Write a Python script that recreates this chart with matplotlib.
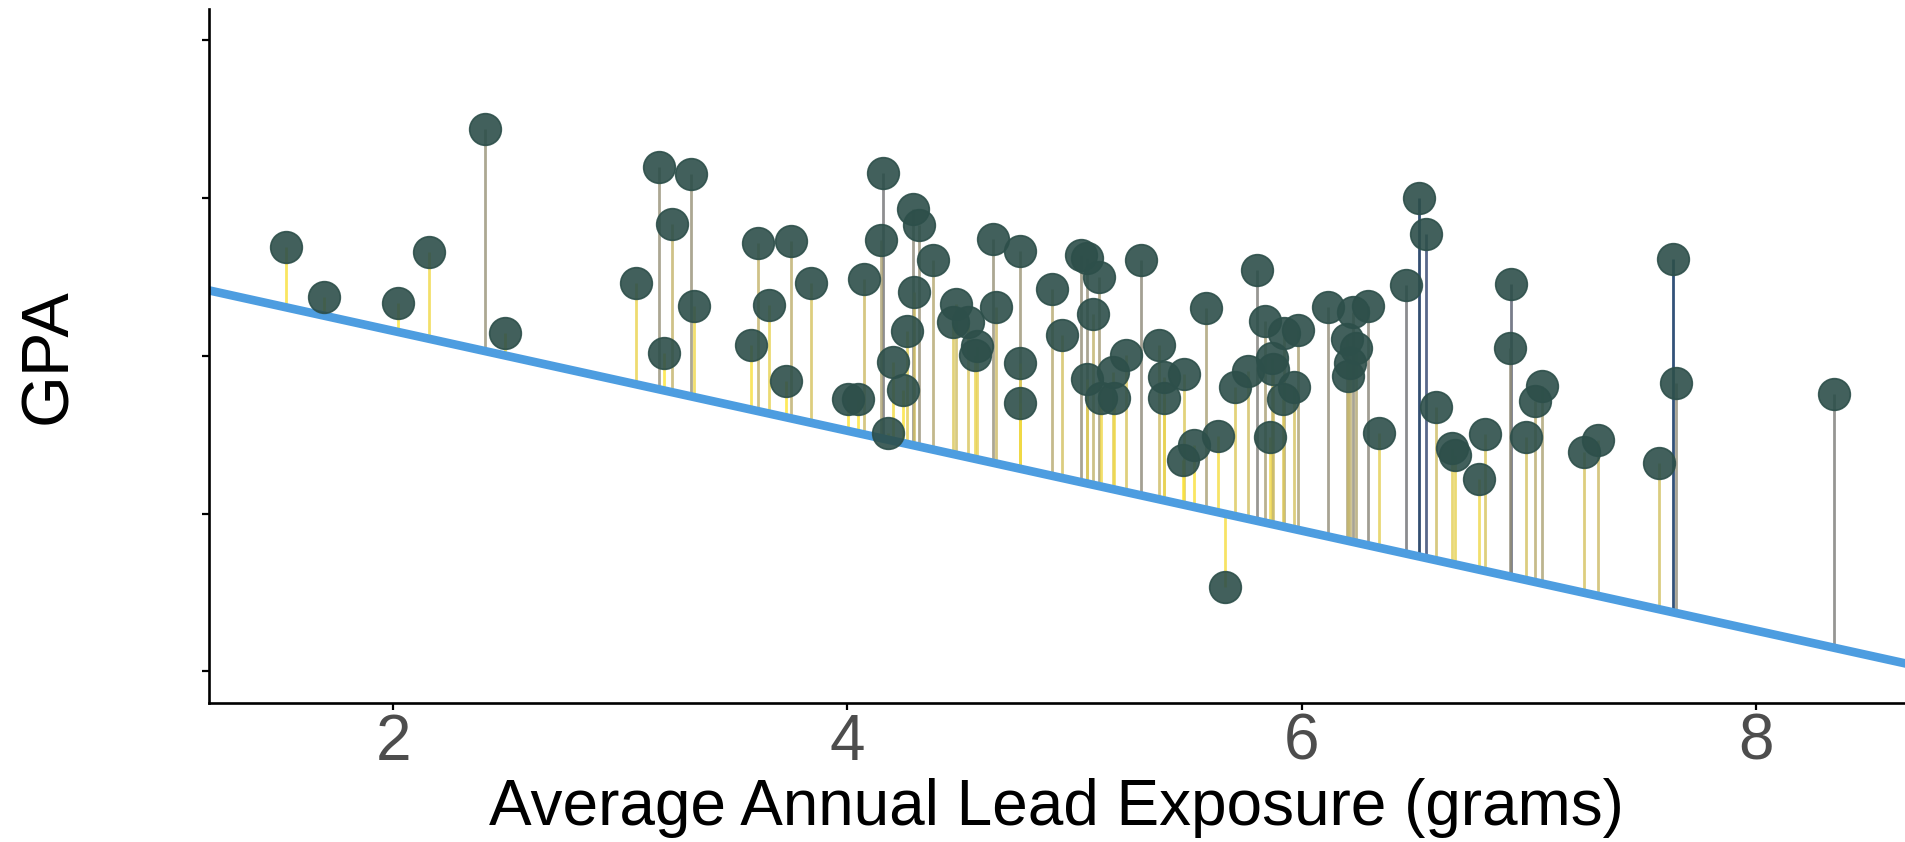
import numpy as np
import matplotlib
matplotlib.use("Agg")
import matplotlib.pyplot as plt
from matplotlib.colors import Normalize

# values
lead = [1.528, 1.694, 2.020, 2.157, 2.405, 2.493, 3.069, 3.171, 3.191, 3.227,
        3.313, 3.324, 3.575, 3.606, 3.653, 3.728, 3.750, 3.841, 4.003, 4.045,
        4.075, 4.156, 4.148, 4.180, 4.200, 4.244, 4.264, 4.291, 4.314, 4.379,
        4.292, 4.478, 4.467, 4.529, 4.571, 4.560, 4.642, 4.654, 4.761, 4.758,
        4.761, 4.902, 4.946, 5.027, 5.053, 5.106, 5.082, 5.053, 5.170, 5.228,
        5.115, 5.174, 5.295, 5.372, 5.395, 5.395, 5.484, 5.478, 5.527, 5.634,
        5.581, 5.705, 5.762, 5.803, 5.837, 5.924, 5.982, 5.871, 5.875, 5.965,
        5.919, 5.862, 5.662, 6.116, 6.228, 6.291, 6.198, 6.238, 6.213, 6.203,
        6.343, 6.460, 6.516, 6.548, 6.590, 6.661, 6.676, 6.807, 6.783, 6.922,
        6.917, 7.058, 7.029, 6.986, 7.242, 7.304, 7.573, 7.636, 7.650, 8.346]
gpa = [2.692, 2.371, 2.337, 2.658, 3.436, 2.146, 2.461, 3.199, 2.016, 2.834,
       3.154, 2.314, 2.070, 2.715, 2.320, 1.838, 2.728, 2.463, 1.728, 1.728,
       2.486, 3.159, 2.736, 1.511, 1.963, 1.781, 2.155, 2.932, 2.826, 2.605,
       2.403, 2.326, 2.216, 2.216, 2.062, 2.005, 2.738, 2.307, 2.662, 1.956,
       1.703, 2.423, 2.134, 2.637, 2.622, 2.498, 2.263, 1.855, 1.897, 2.002,
       1.734, 1.734, 2.609, 2.068, 1.866, 1.733, 1.887, 1.339, 1.435, 1.492,
       2.305, 1.804, 1.906, 2.544, 2.221, 2.143, 2.164, 1.988, 1.914, 1.800,
       1.726, 1.485, 0.532, 2.309, 2.276, 2.316, 2.105, 2.049, 1.952, 1.870,
       1.513, 2.449, 2.998, 2.770, 1.674, 1.414, 1.371, 1.502, 1.219, 2.457,
       2.049, 1.810, 1.712, 1.483, 1.392, 1.466, 1.319, 2.614, 1.828, 1.758]

# the straight line drawn in the chart
line_intercept = 2.791
line_slope = -0.3166

x = np.array(lead)
y = np.array(gpa)
fitted = line_intercept + line_slope * x
sq_resid = (y - fitted) ** 2
seg_colors = plt.get_cmap("cividis_r")(Normalize(0, sq_resid.max())(sq_resid))

plt.rcParams["font.family"] = ["Liberation Sans", "DejaVu Sans"]

fig = plt.figure(figsize=(19.05, 8.42), dpi=100)
ax = fig.add_axes([0.1096, 0.1653, 0.8904, 0.8243])

ax.vlines(x, fitted, y, colors=seg_colors, linewidth=2.0, alpha=0.8, zorder=1)
ax.axline((0, line_intercept), slope=line_slope, color="#4D9DE0", linewidth=6.2, zorder=2)
ax.scatter(x, y, s=520, color="#2d4f4a", alpha=0.9, edgecolors="#2d4f4a",
           linewidths=1.2, zorder=3)

ax.set_xlim(1.188, 8.657)
ax.set_ylim(-0.2, 4.2)
ax.set_xticks([2, 4, 6, 8])
ax.set_yticks([0, 1, 2, 3, 4])
ax.set_yticklabels([])

for side in ["top", "right"]:
    ax.spines[side].set_visible(False)
for side in ["left", "bottom"]:
    ax.spines[side].set_linewidth(1.9)
    ax.spines[side].set_color("black")

ax.tick_params(axis="both", length=5, width=1.6, color="black")
ax.tick_params(axis="x", labelsize=46, labelcolor="#4d4d4d", pad=2)

ax.set_xlabel("Average Annual Lead Exposure (grams)", fontsize=46, labelpad=4)
ax.set_ylabel("GPA", fontsize=48, labelpad=84)

fig.savefig("out.png", dpi=100)
